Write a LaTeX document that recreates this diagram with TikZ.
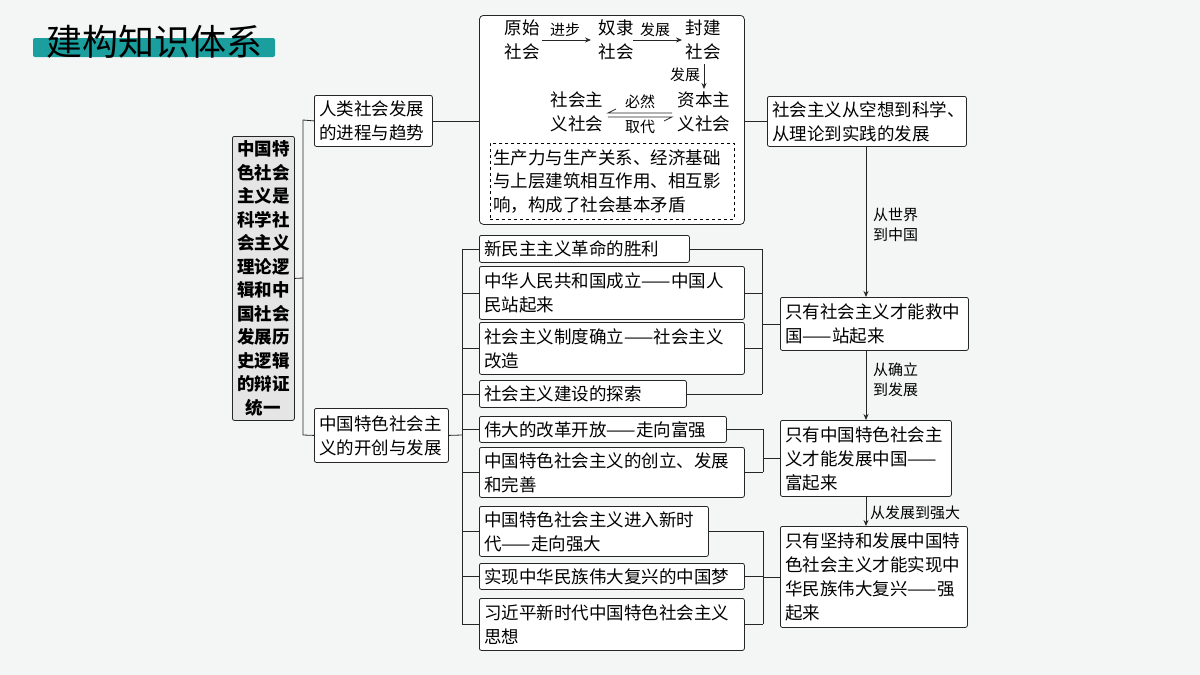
\documentclass[tikz,border=0pt]{standalone}
\usepackage{fontspec}
\newfontfamily\cjk{Noto Sans CJK SC}
\usetikzlibrary{arrows.meta}
\definecolor{bg}{HTML}{F4F6F5}
\definecolor{teal1}{HTML}{1A9E9E}
\tikzset{
  ln/.style={line width=0.8pt, draw=black!85},
  bx/.style={ln, draw, fill=white, rounded corners=2pt, anchor=north west, align=left, inner xsep=5pt, inner ysep=0pt, font=\cjk\fontsize{17.5}{24}\selectfont},
  tx/.style={font=\cjk\fontsize{17.5}{24}\selectfont, inner sep=0pt, align=left},
  lab/.style={font=\cjk\fontsize{15}{20}\selectfont, inner sep=0pt, align=left},
  ar/.style={ln, -{Stealth[length=6pt,width=5pt]}}
}
\begin{document}
\begin{tikzpicture}[x=1pt,y=-1pt]
\fill[bg] (0,0) rectangle (1200,675);
\useasboundingbox (0,0) rectangle (1200,675);
% title
\fill[teal1, rounded corners=2pt] (33,38) rectangle (275,57);
\node[font=\cjk\fontsize{36}{38}\selectfont, inner sep=0pt] (title) at (154,42) {建构知识体系};
% left box
\node[ln, draw, fill=black!10, rounded corners=2pt, anchor=north west, minimum width=62pt, minimum height=284pt, inner sep=0pt, align=center, font=\cjk\bfseries\fontsize{17.5}{23.5}\selectfont] (root) at (232,136)
{中国特\\色社会\\主义是\\科学社\\会主义\\理论逻\\辑和中\\国社会\\发展历\\史逻辑\\的辩证\\统一};
% level 2
\node[bx, text width=108pt, minimum height=51pt] (a) at (314,95) {人类社会发展\\的进程与趋势};
\node[bx, text width=124pt, minimum height=54pt] (b) at (314,408) {中国特色社会主\\义的开创与发展};
\coordinate (r1) at (303,120);
\coordinate (r2) at (303,435);
\draw[ln] (root.east) -- (303,278);
\draw[ln] (a.west) -- (r1) -- (r2) -- (b.west);
% top big box
\node[ln, draw, fill=white, rounded corners=4pt, anchor=north west, minimum width=265pt, minimum height=209pt, inner sep=0pt] (big) at (479,15) {};
\draw[ln] (a.east) -- (big.west |- a.east);
\node[tx] (s1) at (522,40) {原始\\社会};
\node[tx] (s2) at (616,40) {奴隶\\社会};
\node[tx] (s3) at (703,40) {封建\\社会};
\node[tx] (s4) at (577,112) {社会主\\义社会};
\node[tx] (s5) at (704,112) {资本主\\义社会};
\draw[ar] (542,40) -- (591,40);
\node[lab] (l1) at (565,30) {进步};
\draw[ar] (633,40) -- (682,40);
\node[lab] (l2) at (655,30) {发展};
\draw[ar] (704,64) -- (704,89);
\node[lab] (l3) at (685,75) {发展};
\draw[ln] (672,113) -- (608,113) -- (616,109);
\draw[ln] (608,117) -- (672,117) -- (664,121);
\node[lab] (l4) at (640,102) {必然};
\node[lab] (l5) at (640,127) {取代};
\node[draw, dashed, line width=0.7pt, anchor=north west, minimum width=244pt, minimum height=76pt, inner xsep=3pt, inner ysep=0pt, text width=238pt, align=left, font=\cjk\fontsize{17.5}{23.5}\selectfont] (dash) at (490,143)
{生产力与生产关系、经济基础\\与上层建筑相互作用、相互影\\响，构成了社会基本矛盾};
% right column
\node[bx, text width=189pt, minimum height=50pt] (c1) at (767,96) {社会主义从空想到科学、\\从理论到实践的发展};
\draw[ln] (big.east |- c1.west) -- (c1.west);
\node[bx, text width=178pt, minimum height=53pt] (c2) at (780,297) {只有社会主义才能救中\\国——站起来};
\node[bx, text width=161pt, minimum height=76pt] (c3) at (780,420) {只有中国特色社会主\\义才能发展中国——\\富起来};
\node[bx, text width=177pt, minimum height=101pt] (c4) at (780,526) {只有坚持和发展中国特\\色社会主义才能实现中\\华民族伟大复兴——强\\起来};
\draw[ar] (866,146) -- (866,297);
\draw[ar] (866,350) -- (866,420);
\draw[ar] (866,496) -- (866,526);
\node[lab, anchor=west] (m1) at (873,225) {从世界\\到中国};
\node[lab, anchor=west] (m2) at (873,380) {从确立\\到发展};
\node[lab, anchor=west] (m3) at (870,513) {从发展到强大};
% list items
\node[bx, text width=200pt, minimum height=27pt] (i1) at (479,235) {新民主主义革命的胜利};
\node[bx, text width=255pt, minimum height=53pt] (i2) at (479,266) {中华人民共和国成立——中国人\\民站起来};
\node[bx, text width=255pt, minimum height=52pt] (i3) at (479,322) {社会主义制度确立——社会主义\\改造};
\node[bx, text width=197pt, minimum height=27pt] (i4) at (479,380) {社会主义建设的探索};
\node[bx, text width=237pt, minimum height=26pt] (i5) at (479,416) {伟大的改革开放——走向富强};
\node[bx, text width=255pt, minimum height=50pt] (i6) at (479,447) {中国特色社会主义的创立、发展\\和完善};
\node[bx, text width=219pt, minimum height=50pt] (i7) at (479,506) {中国特色社会主义进入新时\\代——走向强大};
\node[bx, text width=255pt, minimum height=26pt] (i8) at (479,563) {实现中华民族伟大复兴的中国梦};
\node[bx, text width=255pt, minimum height=52pt] (i9) at (479,598) {习近平新时代中国特色社会主义\\思想};
% left bracket
\draw[ln] (b.east) -- (462,435);
\draw[ln] (462,248.5) -- (462,624);
\foreach \n in {i1,i2,i3,i4,i5,i6,i7,i8,i9} {\draw[ln] (462,0 |- \n.west) -- (\n.west);}
% right brackets
\foreach \n in {i1,i2,i3,i4} {\draw[ln] (\n.east) -- (762,0 |- \n.east);}
\draw[ln] (762,0 |- i1.east) -- (762,0 |- i4.east);
\draw[ln] (762,0 |- c2.west) -- (c2.west);
\foreach \n in {i5,i6} {\draw[ln] (\n.east) -- (763,0 |- \n.east);}
\draw[ln] (763,0 |- i5.east) -- (763,0 |- i6.east);
\draw[ln] (763,0 |- c3.west) -- (c3.west);
\foreach \n in {i7,i8,i9} {\draw[ln] (\n.east) -- (763,0 |- \n.east);}
\draw[ln] (763,0 |- i7.east) -- (763,0 |- i9.east);
\draw[ln] (763,0 |- c4.west) -- (c4.west);
\end{tikzpicture}
\end{document}
